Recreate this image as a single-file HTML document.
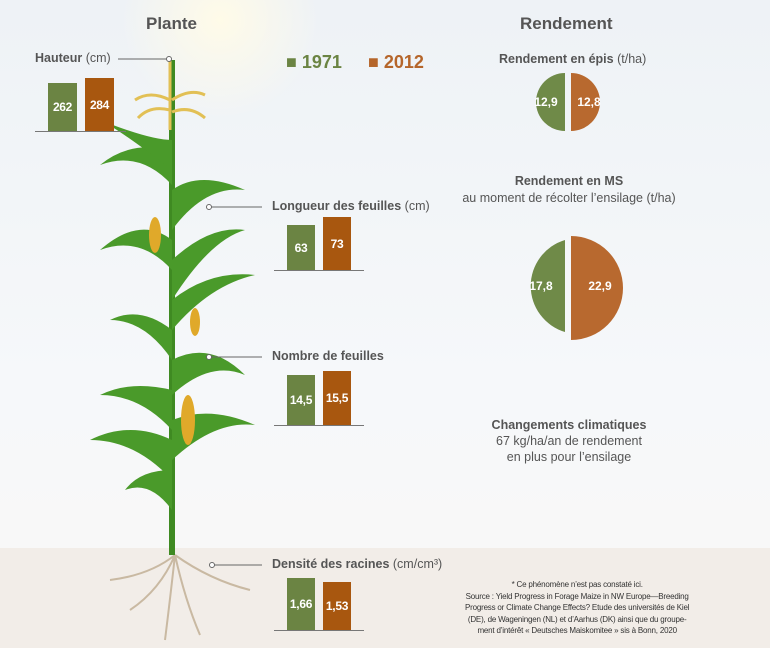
<!DOCTYPE html><html><head><style>
body{margin:0;width:770px;height:648px;overflow:hidden;font-family:"Liberation Sans",sans-serif;position:relative;background:linear-gradient(180deg,#eef2f6 0%,#f6f8fa 60%,#f8f8f8 84%);}
.t{position:absolute;color:#555;font-size:12.5px;white-space:nowrap}
.b{font-weight:bold}
.c{text-align:center;width:40px;color:#fff;font-weight:bold;font-size:12px}
.bar{position:absolute;color:#fff;font-weight:bold;font-size:12px;display:flex;align-items:center;justify-content:center;letter-spacing:-0.3px}
.g{background:#6b8443}.o{background:#a8570f}
.base{position:absolute;height:1px;background:#777}
</style></head><body>
<div style="position:absolute;left:0;top:548px;width:770px;height:100px;background:#f2ede8"></div>
<div style="position:absolute;left:120px;top:-80px;width:200px;height:200px;border-radius:50%;background:radial-gradient(circle,#fffbe8 0%,rgba(255,250,230,0) 70%)"></div>
<svg width="770" height="648" style="position:absolute;left:0;top:0">
<g stroke="#c9b9a2" stroke-width="2" fill="none">
<path d="M175 555 Q160 590 130 610 M175 555 Q185 600 200 635 M175 555 Q210 580 250 590 M175 555 Q150 575 110 580 M175 555 Q170 600 165 640"/></g>
<path d="M172 555 L172 60" stroke="#3f8a22" stroke-width="6"/>
<g fill="#4a9a2a">
<path d="M172 150 Q130 140 100 165 Q140 150 172 185Z"/>
<path d="M172 190 Q200 170 245 190 Q205 185 172 230Z"/>
<path d="M172 240 Q140 215 100 250 Q140 235 172 270Z"/>
<path d="M172 260 Q210 225 245 230 Q210 240 172 300Z"/>
<path d="M172 300 Q210 270 255 275 Q210 285 172 330Z"/>
<path d="M172 330 Q140 305 110 320 Q145 320 172 360Z"/>
<path d="M172 360 Q210 340 245 375 Q210 360 172 395Z"/>
<path d="M172 390 Q130 380 100 395 Q140 395 172 430Z"/>
<path d="M172 420 Q210 405 255 425 Q215 420 172 460Z"/>
<path d="M172 440 Q130 420 90 440 Q135 440 172 480Z"/>
<path d="M172 470 Q140 470 125 490 Q150 480 172 510Z"/>
<path d="M172 170 Q120 130 100 120 Q150 140 172 140Z"/>
</g>
<g fill="#e0a92a"><ellipse cx="155" cy="235" rx="6" ry="18"/><ellipse cx="195" cy="322" rx="5" ry="14"/><ellipse cx="188" cy="420" rx="7" ry="25"/></g>
<g stroke="#e2c055" stroke-width="3" fill="none"><path d="M170 60 L170 130 M170 100 Q150 90 135 100 M170 110 Q150 105 138 118 M172 100 Q190 88 205 95 M172 112 Q190 105 205 118"/></g>
<g stroke="#666" stroke-width="1" fill="none"><path d="M118 59 H168"/><circle cx="169" cy="59" r="2.5" fill="#fff"/>
<path d="M210 207 H262"/><circle cx="209" cy="207" r="2.5" fill="#fff"/>
<path d="M210 357 H262"/><circle cx="209" cy="357" r="2.5" fill="#fff"/>
<path d="M214 565 H262"/><circle cx="212" cy="565" r="2.5" fill="#fff"/></g>
<path d="M565 73 A29 29 0 0 0 565 131Z" fill="#6f8a48"/>
<path d="M571 73 A29 29 0 0 1 571 131Z" fill="#b8692f"/>
<path d="M565 240 A48 48 0 0 0 565 332Z" fill="#6f8a48"/>
<path d="M571 236 A52 52 0 0 1 571 340Z" fill="#b8692f"/>
</svg>
<div class="t b" style="left:146px;top:14px;font-size:17px">Plante</div>
<div class="t b" style="left:520px;top:14px;font-size:17px">Rendement</div>
<div class="t b" style="left:286px;top:52px;font-size:18px;color:#6b8443">■ 1971</div>
<div class="t b" style="left:368px;top:52px;font-size:18px;color:#b5652a">■ 2012</div>
<div class="t" style="left:35px;top:51px"><b>Hauteur</b> (cm)</div>
<div class="bar g" style="left:48px;top:83px;width:29px;height:48px">262</div>
<div class="bar o" style="left:85px;top:78px;width:29px;height:53px">284</div>
<div class="base" style="left:35px;top:131px;width:91px"></div>
<div class="t" style="left:272px;top:199px"><b>Longueur des feuilles</b> (cm)</div>
<div class="bar g" style="left:287px;top:225px;width:28px;height:45px">63</div>
<div class="bar o" style="left:323px;top:217px;width:28px;height:53px">73</div>
<div class="base" style="left:274px;top:270px;width:90px"></div>
<div class="t b" style="left:272px;top:349px">Nombre de feuilles</div>
<div class="bar g" style="left:287px;top:375px;width:28px;height:50px">14,5</div>
<div class="bar o" style="left:323px;top:371px;width:28px;height:54px">15,5</div>
<div class="base" style="left:274px;top:425px;width:90px"></div>
<div class="t" style="left:272px;top:557px"><b>Densité des racines</b> (cm/cm³)</div>
<div class="bar g" style="left:287px;top:578px;width:28px;height:52px">1,66</div>
<div class="bar o" style="left:323px;top:582px;width:28px;height:48px">1,53</div>
<div class="base" style="left:274px;top:630px;width:90px"></div>
<div class="t" style="left:499px;top:52px"><b>Rendement en épis</b> (t/ha)</div>
<div class="t c" style="left:526px;top:95px">12,9</div>
<div class="t c" style="left:569px;top:95px">12,8</div>
<div class="t" style="left:455px;top:173px;width:228px;text-align:center;line-height:17px"><b>Rendement en MS</b><br>au moment de récolter l’ensilage (t/ha)</div>
<div class="t c" style="left:521px;top:279px">17,8</div>
<div class="t c" style="left:580px;top:279px">22,9</div>
<div class="t" style="left:455px;top:417px;width:228px;text-align:center;line-height:16px"><b>Changements climatiques</b><br>67 kg/ha/an de rendement<br>en plus pour l’ensilage</div>
<div class="t" style="left:465px;top:579px;text-align:center;font-size:8px;line-height:11.5px;color:#333;letter-spacing:-0.2px">* Ce phénomène n’est pas constaté ici.<br>Source : Yield Progress in Forage Maize in NW Europe—Breeding<br>Progress or Climate Change Effects? Etude des universités de Kiel<br>(DE), de Wageningen (NL) et d’Aarhus (DK) ainsi que du groupe-<br>ment d’intérêt « Deutsches Maiskomitee » sis à Bonn, 2020</div>
</body></html>
